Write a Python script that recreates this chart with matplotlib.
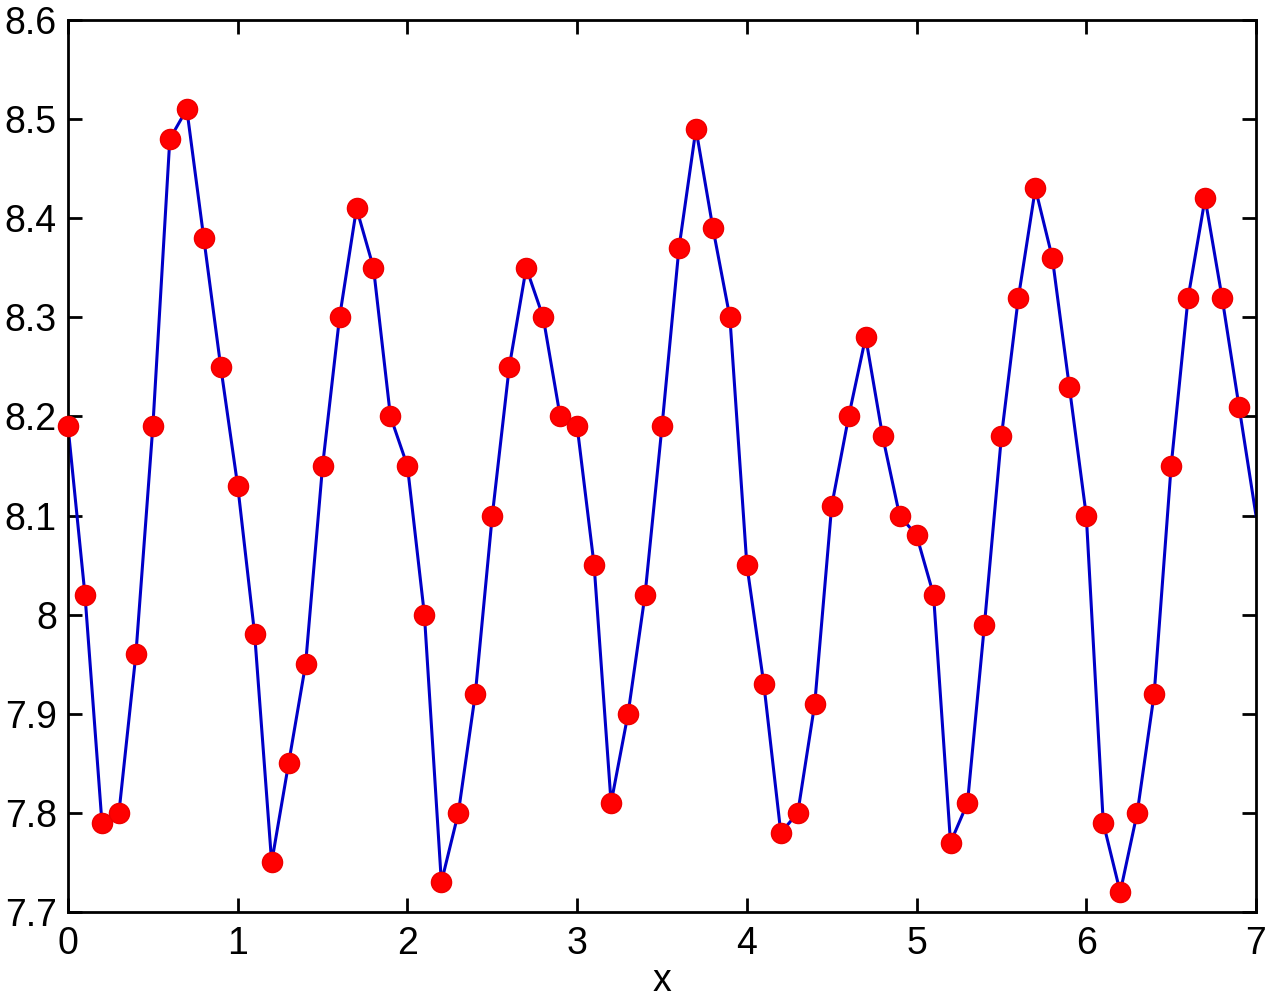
import matplotlib
matplotlib.use("Agg")
import matplotlib.pyplot as plt
import numpy as np

x_values = [round(0.1 * i, 1) for i in range(71)]
y_values = [8.19, 8.02, 7.79, 7.80, 7.96, 8.19, 8.48, 8.51, 8.38, 8.25,
            8.13, 7.98, 7.75, 7.85, 7.95, 8.15, 8.30, 8.41, 8.35, 8.20,
            8.15, 8.00, 7.73, 7.80, 7.92, 8.10, 8.25, 8.35, 8.30, 8.20,
            8.19, 8.05, 7.81, 7.90, 8.02, 8.19, 8.37, 8.49, 8.39, 8.30,
            8.05, 7.93, 7.78, 7.80, 7.91, 8.11, 8.20, 8.28, 8.18, 8.10,
            8.08, 8.02, 7.77, 7.81, 7.99, 8.18, 8.32, 8.43, 8.36, 8.23,
            8.10, 7.79, 7.72, 7.80, 7.92, 8.15, 8.32, 8.42, 8.32, 8.21,
            8.10]
marker_count = 70  # last point drawn without a marker

x_ticks = [0, 1, 2, 3, 4, 5, 6, 7]
x_tick_labels = ["0", "1", "2", "3", "4", "5", "6", "7"]
y_ticks = [7.7, 7.8, 7.9, 8.0, 8.1, 8.2, 8.3, 8.4, 8.5, 8.6]
y_tick_labels = ["7.7", "7.8", "7.9", "8", "8.1", "8.2", "8.3", "8.4", "8.5", "8.6"]

plt.rcParams['font.family'] = ['Liberation Sans', 'DejaVu Sans']

fig = plt.figure(figsize=(12.7, 10), dpi=100)
ax = fig.add_axes([68 / 1270, 88 / 1000, 1188 / 1270, 892 / 1000])

ax.plot(x_values, y_values, color='#0000c8', linewidth=2.2, zorder=2)
ax.plot(x_values[:marker_count], y_values[:marker_count], linestyle='none',
        marker='o', markersize=14.5, markerfacecolor='#ff0000',
        markeredgecolor='#ee0000', zorder=3, clip_on=False)

ax.set_xlim(0, 7)
ax.set_ylim(7.7, 8.6)
ax.set_xticks(x_ticks)
ax.set_xticklabels(x_tick_labels)
ax.set_yticks(y_ticks)
ax.set_yticklabels(y_tick_labels)
ax.tick_params(direction='in', length=10, width=2, top=True, right=True,
               labelsize=27, colors='black')
ax.tick_params(axis='x', pad=10)
ax.tick_params(axis='y', pad=8)
for s in ax.spines.values():
    s.set_linewidth(2)
ax.set_xlabel('x', fontsize=27, labelpad=1)

fig.savefig('out.png', dpi=100)
